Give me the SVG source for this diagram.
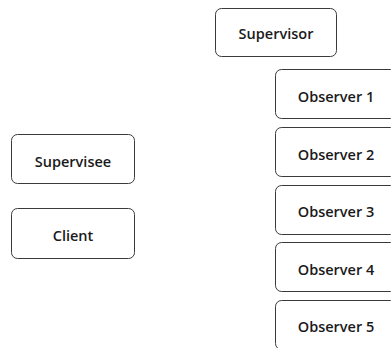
<svg xmlns="http://www.w3.org/2000/svg" width="391" height="348" viewBox="0 0 391 348">
  <style>
    .box { fill: #ffffff; stroke: #3a3a3a; stroke-width: 1; }
    .label { font-family: "Open Sans", "Noto Sans", "Liberation Sans", sans-serif; font-size: 14.5px; font-weight: 600; fill: #1a1a1a; text-anchor: middle; dominant-baseline: central; }
  </style>
  <rect width="391" height="348" fill="#ffffff"/>
  <g id="connectors"></g>
  <g id="supervisor">
    <rect class="box" x="215.5" y="8.5" width="121" height="48" rx="6"/>
    <text class="label" x="276" y="33">Supervisor</text>
  </g>
  <g id="observer1">
    <rect class="box" x="275.5" y="69.5" width="121" height="49" rx="6"/>
    <text class="label" x="336" y="96">Observer 1</text>
  </g>
  <g id="observer2">
    <rect class="box" x="275.5" y="127.5" width="121" height="49" rx="6"/>
    <text class="label" x="336" y="154">Observer 2</text>
  </g>
  <g id="observer3">
    <rect class="box" x="275.5" y="185.5" width="121" height="49" rx="6"/>
    <text class="label" x="336" y="211">Observer 3</text>
  </g>
  <g id="observer4">
    <rect class="box" x="275.5" y="242.5" width="121" height="49" rx="6"/>
    <text class="label" x="336" y="269">Observer 4</text>
  </g>
  <g id="observer5">
    <rect class="box" x="275.5" y="300.5" width="121" height="49" rx="6"/>
    <text class="label" x="336" y="326">Observer 5</text>
  </g>
  <g id="supervisee">
    <rect class="box" x="11.5" y="134.5" width="123" height="49" rx="6"/>
    <text class="label" x="73" y="161">Supervisee</text>
  </g>
  <g id="client">
    <rect class="box" x="11.5" y="208.5" width="123" height="50" rx="6"/>
    <text class="label" x="73" y="235">Client</text>
  </g>
</svg>
